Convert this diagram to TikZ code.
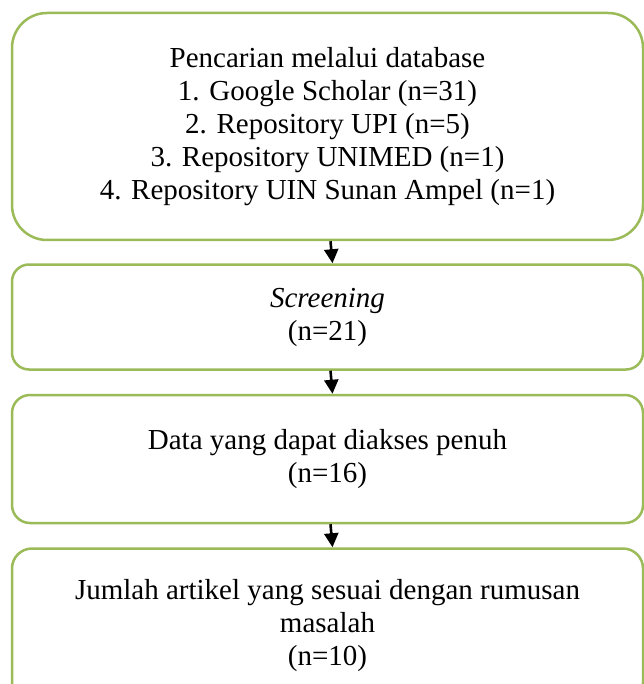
\documentclass[tikz,border=0pt]{standalone}
\usepackage{fontspec}
\setmainfont{Liberation Serif}
\usepackage{tikz}
\usepackage{xcolor}
\usetikzlibrary{arrows.meta,positioning}
\definecolor{boxgreen}{HTML}{9BBB59}
\tikzset{%
	box/.style      = {draw=boxgreen, line width=2.5pt, rectangle, align=center, minimum width=631pt, font=\fontsize{29}{33}\selectfont}, % Step
	flow/.style     = {-{Triangle[length=14pt,width=14pt]}, line width=2.6pt}, % Arrow
}

\begin{document}
\begin{tikzpicture}[x=1pt, y=-1pt, node distance = 23pt]
		\useasboundingbox (0,0) rectangle (643,684);
		\node[box, rounded corners=35pt, minimum height=227pt] (search) at (327.5,126.5) {Pencarian melalui database\\ 1. Google Scholar (n=31)\\ 2. Repository UPI (n=5)\\ 3. Repository UNIMED (n=1)\\ 4. Repository UIN Sunan Ampel (n=1)};
		\node[box, rounded corners=17pt, minimum height=105pt, below=22pt of search] (screen) {\textit{Screening}\\ (n=21)};
		\node[box, rounded corners=18pt, minimum height=128pt, below=of screen] (access) {Data yang dapat diakses penuh\\ (n=16)};
		\node[box, rounded corners=20pt, minimum height=154pt, below=of access] (result) {Jumlah artikel yang sesuai dengan rumusan\\ masalah\\ (n=10)};
		\draw[flow] ([xshift=3pt]search.south) -- ([xshift=5pt]screen.north);
		\draw[flow] ([xshift=3pt]screen.south) -- ([xshift=5pt]access.north);
		\draw[flow] ([xshift=3pt]access.south) -- ([xshift=5pt]result.north);
		\end{tikzpicture}
\end{document}
